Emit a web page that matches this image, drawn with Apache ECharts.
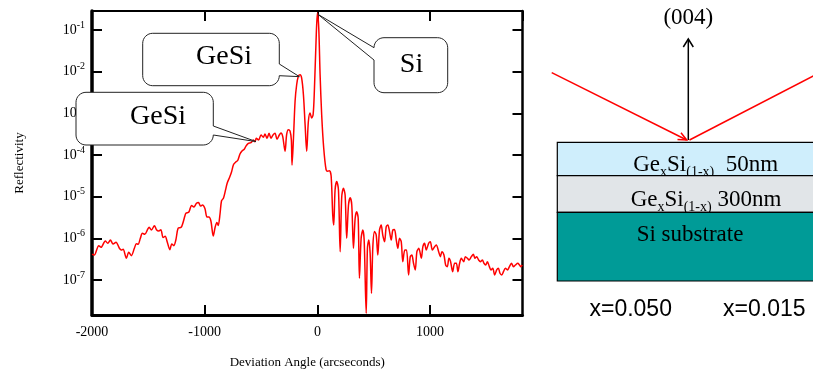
<!DOCTYPE html>
<html><head><meta charset="utf-8">
<script src="https://cdn.jsdelivr.net/npm/echarts@6/dist/echarts.min.js"></script>
<style>html,body{margin:0;padding:0;background:#fff}#c{width:813px;height:376px}</style>
</head><body><div id="c"></div>
<script>
// ---- data ----
const angles = [
 -2000,-1980,-1940,-1920,-1882,-1860,-1837,-1813,-1787,-1757,
 -1740,-1724,-1695,-1674,-1651,-1624,-1606,-1591,-1571,-1553,
 -1532,-1505,-1493,-1473,-1446,-1428,-1407,-1389,-1369,-1351,
 -1333,-1309,-1292,-1274,-1256,-1236,-1209,-1194,-1176,-1167,
 -1140,-1117,-1096,-1073,-1055,-1037,-1020,-998,-980,-963,
 -945,-924,-907,-892,-880,-864,-851,-833,-815,-800,
 -778,-762,-744,-724,-707,-687,-669,-649,-634,-613,
 -589,-569,-554,-542,-522,-500,-480,-465,-447,-429,
 -412,-394,-376,-358,-338,-323,-308,-287,-273,-258,
 -243,-231,-225,-211,-198,-184,-169,-154,-140,-124,
 -109,-95,-80,-65,-51,-38,-27,-12,0,12,
 24,38,56,77,92,107,122,136,145,157,
 172,187,202,216,231,246,260,276,291,305,
 320,335,349,362,373,388,403,415,433,444,
 456,468,480,492,507,522,536,551,566,580,
 596,611,625,640,655,669,684,700,714,729,
 744,758,776,791,809,824,838,853,868,883,
 900,922,936,951,966,987,1002,1020,1040,1055,
 1076,1091,1105,1123,1138,1153,1167,1182,1200,1218,
 1233,1247,1262,1277,1298,1313,1331,1345,1366,1384,
 1398,1413,1431,1446,1464,1478,1493,1508,1526,1540,
 1556,1573,1591,1606,1620,1636,1651,1668,1686,1704,
 1722,1740,1757,1778,1793,1804,1818
];
const reflectivity = [
 4.14e-7,3.98e-7,6.67e-7,6.1e-7,8.63e-7,7.6e-7,9.1e-7,7.31e-7,8.04e-7,5.77e-7,
 5.25e-7,5.46e-7,3.32e-7,4.62e-7,3.84e-7,5.77e-7,7.45e-7,7.2e-7,1.0e-6,1.32e-6,
 1.25e-6,1.67e-6,1.84e-6,1.58e-6,2.01e-6,1.61e-6,1.5e-6,1.61e-6,1.04e-6,1.12e-6,
 8.3e-7,5.35e-7,7.31e-7,6.67e-7,9.1e-7,1.74e-6,1.84e-6,2.3e-6,3.44e-6,3.99e-6,
 4.29e-6,6.14e-6,5.65e-6,6.93e-6,7.24e-6,5.97e-6,6.31e-6,5.2e-6,3.25e-6,3.25e-6,
 2.61e-6,1.14e-6,1.87e-6,2.4e-6,2.03e-6,3.84e-6,7.87e-6,9.29e-6,1.45e-5,2.13e-5,
 2.96e-5,3.91e-5,5.92e-5,6.79e-5,7.38e-5,1.06e-4,1.25e-4,1.37e-4,1.64e-4,1.91e-4,
 1.97e-4,2.29e-4,2.08e-4,2.52e-4,2.29e-4,3.02e-4,2.66e-4,3.19e-4,2.52e-4,3.32e-4,
 2.52e-4,3.02e-4,3.32e-4,2.38e-4,3.02e-4,3.37e-4,2.81e-4,1.23e-4,3.07e-4,4.05e-4,
 3.77e-4,2.29e-4,5.75e-5,3.07e-4,1.95e-3,4.86e-3,7.74e-3,8.45e-3,7.05e-3,2.8e-3,
 5.33e-4,1.23e-4,6.44e-4,1.02e-3,7.73e-4,9.27e-4,3.38e-3,5.36e-2,0.256,0.112,
 8.45e-3,9.27e-4,1.47e-4,4.44e-5,4.06e-5,4.21e-5,3.13e-5,3.7e-6,2.09e-6,1.47e-5,
 2.31e-5,1.45e-5,4.79e-7,1.0e-5,1.59e-5,1.1e-5,1.0e-6,6.31e-6,9.46e-6,6.31e-6,
 5.77e-7,3.03e-6,4.36e-6,3.03e-6,1.1e-7,1.0e-6,1.58e-6,9.1e-7,1.59e-8,5.77e-7,
 9.1e-7,4.38e-7,4.8e-8,6.31e-7,1.45e-6,1.2e-6,3.98e-7,1.58e-6,2.09e-6,1.2e-6,
 8.3e-7,1.91e-6,2.09e-6,1.45e-6,9.1e-7,1.58e-6,1.62e-6,9.1e-7,5.77e-7,1.0e-6,
 8.3e-7,2.75e-7,5.25e-7,5.25e-7,1.32e-7,3.63e-7,3.98e-7,2.52e-7,1.74e-7,4.79e-7,
 5.77e-7,3.32e-7,6.31e-7,7.6e-7,5.25e-7,7.6e-7,8.3e-7,5.25e-7,6.31e-7,6.92e-7,
 4.79e-7,3.63e-7,4.79e-7,3.98e-7,2.29e-7,2.09e-7,3.32e-7,2.75e-7,1.58e-7,2.52e-7,
 2.52e-7,1.58e-7,2.52e-7,3.32e-7,2.75e-7,3.63e-7,3.32e-7,3.02e-7,3.63e-7,4.14e-7,
 3.32e-7,3.63e-7,3.02e-7,2.75e-7,3.02e-7,2.52e-7,2.29e-7,2.75e-7,2.09e-7,1.74e-7,
 1.91e-7,1.32e-7,1.74e-7,1.91e-7,1.45e-7,1.32e-7,1.58e-7,1.91e-7,1.74e-7,2.09e-7,
 2.52e-7,2.09e-7,2.29e-7,2.52e-7,2.29e-7,2.09e-7,2.29e-7
];
const xTickLabels = [-2000, -1000, 0, 1000];
const yTickExponents = [-7, -6, -5, -4, -3, -2, -1];
const calloutLabels = ['GeSi', 'GeSi', 'Si'];
const calloutTipAngle = [-160, -545, 3];
const calloutTipR = [7.6e-3, 2.1e-4, 0.24];

// ---- chart ----
const serif = 'Liberation Serif';
const sans = 'Liberation Sans';
const chart = echarts.init(document.getElementById('c'), null, {renderer: 'canvas'});

function xAxisCfg(pos, showLabel, lw) {
  return {
    type: 'value', position: pos, min: -2000, max: 1820, interval: 1000,
    name: showLabel ? 'Deviation Angle (arcseconds)' : '',
    nameLocation: 'middle', nameGap: 41,
    nameTextStyle: {color: '#000', fontFamily: serif, fontSize: 13},
    axisLine: {show: true, onZero: false, lineStyle: {color: '#000', width: lw}},
    axisTick: {show: true, inside: true, length: 10, lineStyle: {color: '#000', width: 2}},
    axisLabel: {show: showLabel, margin: 10, color: '#000', fontFamily: serif, fontSize: 14,
      showMaxLabel: false,
      formatter: v => xTickLabels.includes(v) ? String(v) : ''},
    splitLine: {show: false}
  };
}
function yAxisCfg(pos, showLabel, lw) {
  return {
    type: 'log', logBase: 10, position: pos, min: 1.445e-8, max: 0.2858,
    name: showLabel ? 'Reflectivity' : '',
    nameLocation: 'middle', nameGap: 66,
    nameTextStyle: {color: '#000', fontFamily: serif, fontSize: 13},
    axisLine: {show: true, onZero: false, lineStyle: {color: '#000', width: lw}},
    axisTick: {show: true, inside: true, length: 10, lineStyle: {color: '#000', width: 2}},
    minorTick: {show: false},
    axisLabel: {show: showLabel, margin: 7, showMinLabel: false, showMaxLabel: false,
      formatter: v => {
        const l = Math.log10(v), e = Math.round(l);
        if (Math.abs(l - e) > 1e-6 || !yTickExponents.includes(e)) return '';
        return '{b|10}{s|' + e + '}';
      },
      rich: {
        b: {fontFamily: serif, fontSize: 14, color: '#000', lineHeight: 16},
        s: {fontFamily: serif, fontSize: 10, color: '#000', lineHeight: 10, padding: [0, 0, 10, 0]}
      }},
    splitLine: {show: false}
  };
}

chart.setOption({
  animation: false,
  backgroundColor: '#fff',
  grid: {left: 92, right: 290.5, top: 11, bottom: 61, containLabel: false, outerBoundsMode: 'none'},
  xAxis: [xAxisCfg('bottom', true, 3), xAxisCfg('top', false, 2)],
  yAxis: [yAxisCfg('left', true, 3.5), yAxisCfg('right', false, 2.5)],
  series: [{
    type: 'line', xAxisIndex: 0, yAxisIndex: 0,
    data: angles.map((a, i) => [a, reflectivity[i]]),
    showSymbol: false, smooth: 0.3, clip: true,
    lineStyle: {color: '#ff0000', width: 1.5}, z: 3
  }]
});

// ---- callouts (boxes are layout; tips follow the data scales) ----
const boxes = [
  {l: 142.7, t: 33.3, r: 279.3, b: 85.7, rad: 10, side: 'right', y1: 64, tx: 224, ty: 57},
  {l: 76, t: 92.3, r: 213.3, b: 145, rad: 10, side: 'right', y1: 126, tx: 158, ty: 117},
  {l: 374, t: 37.7, r: 447.7, b: 92.7, rad: 10, side: 'left', y2: 60, tx: 411.5, ty: 65}
];
function arcPts(pts, cx, cy, rad, a0, a1) {
  const n = 8;
  for (let k = 0; k <= n; k++) {
    const a = (a0 + (a1 - a0) * k / n) * Math.PI / 180;
    pts.push([cx + rad * Math.cos(a), cy + rad * Math.sin(a)]);
  }
}
function calloutPoints(bx, tip) {
  const {l, t, r, b, rad} = bx; const pts = [];
  arcPts(pts, r - rad, t + rad, rad, -90, 0);
  if (bx.side === 'right') {
    pts.push([r, bx.y1], [tip[0], tip[1]]);
  }
  arcPts(pts, r - rad, b - rad, rad, 0, 90);
  arcPts(pts, l + rad, b - rad, rad, 90, 180);
  if (bx.side === 'left') {
    pts.push([l, bx.y2], [tip[0], tip[1]]);
  }
  arcPts(pts, l + rad, t + rad, rad, 180, 270);
  return pts;
}
const graphics = [];
boxes.forEach((bx, i) => {
  const tip = chart.convertToPixel({xAxisIndex: 0, yAxisIndex: 0}, [calloutTipAngle[i], calloutTipR[i]]);
  graphics.push({type: 'polygon', z: 100, shape: {points: calloutPoints(bx, tip)},
    style: {fill: '#fff', stroke: '#222', lineWidth: 1}});
  graphics.push({type: 'text', z: 101, x: bx.tx, y: bx.ty,
    style: {text: calloutLabels[i], fontFamily: serif, fontSize: 28, fill: '#000',
      align: 'center', verticalAlign: 'middle'}});
});

// ---- sample diagram ----
const layerRich = {
  n: {fontFamily: serif, fontSize: 23, lineHeight: 24, verticalAlign: 'top', fill: '#000'},
  s: {fontFamily: serif, fontSize: 14, lineHeight: 14, verticalAlign: 'top', padding: [12, 0, 0, 0], fill: '#000'}
};
function txt(x, y, text, font, size, rich) {
  const style = {text, fontFamily: font, fontSize: size, fill: '#000', align: 'center', verticalAlign: 'middle'};
  if (rich) style.rich = rich;
  return {type: 'text', z: 50, x, y, style};
}
graphics.push(
  txt(688.3, 18, '(004)', serif, 23),
  {type: 'line', z: 50, shape: {x1: 688.3, y1: 140, x2: 688.3, y2: 39}, style: {stroke: '#000', lineWidth: 1.5}},
  {type: 'polyline', z: 50, shape: {points: [[683.3, 47], [688.3, 39], [693.3, 47]]}, style: {stroke: '#000', lineWidth: 1.5, fill: null}},
  {type: 'line', z: 50, shape: {x1: 551.7, y1: 72.7, x2: 686.7, y2: 140}, style: {stroke: '#ff0000', lineWidth: 1.5}},
  {type: 'polyline', z: 50, shape: {points: [[677.5, 139.5], [686.7, 140], [681, 132.8]]}, style: {stroke: '#ff0000', lineWidth: 1.5, fill: null}},
  {type: 'line', z: 50, shape: {x1: 689.5, y1: 140, x2: 822, y2: 71.4}, style: {stroke: '#ff0000', lineWidth: 1.5}},
  {type: 'rect', z: 50, shape: {x: 557.3, y: 142.3, width: 270, height: 33.4}, style: {fill: '#cfeefc', stroke: '#000', lineWidth: 1.2}},
  txt(705.7, 165, '{n|Ge}{s|x}{n|Si}{s|(1-x)}{n|  50nm}', serif, 23, layerRich),
  {type: 'rect', z: 50, shape: {x: 557.3, y: 175.7, width: 270, height: 36.6}, style: {fill: '#e1e5e8', stroke: '#000', lineWidth: 1.2}},
  txt(706, 200, '{n|Ge}{s|x}{n|Si}{s|(1-x)}{n| 300nm}', serif, 23, layerRich),
  {type: 'rect', z: 50, shape: {x: 557.3, y: 212.3, width: 270, height: 68.7}, style: {fill: '#009b97', stroke: '#000', lineWidth: 1.2}},
  txt(690, 235, 'Si substrate', serif, 23),
  txt(630.7, 309.3, 'x=0.050', sans, 23),
  txt(764.3, 309.3, 'x=0.015', sans, 23)
);
chart.setOption({graphic: {elements: graphics}});
</script>
</body></html>
